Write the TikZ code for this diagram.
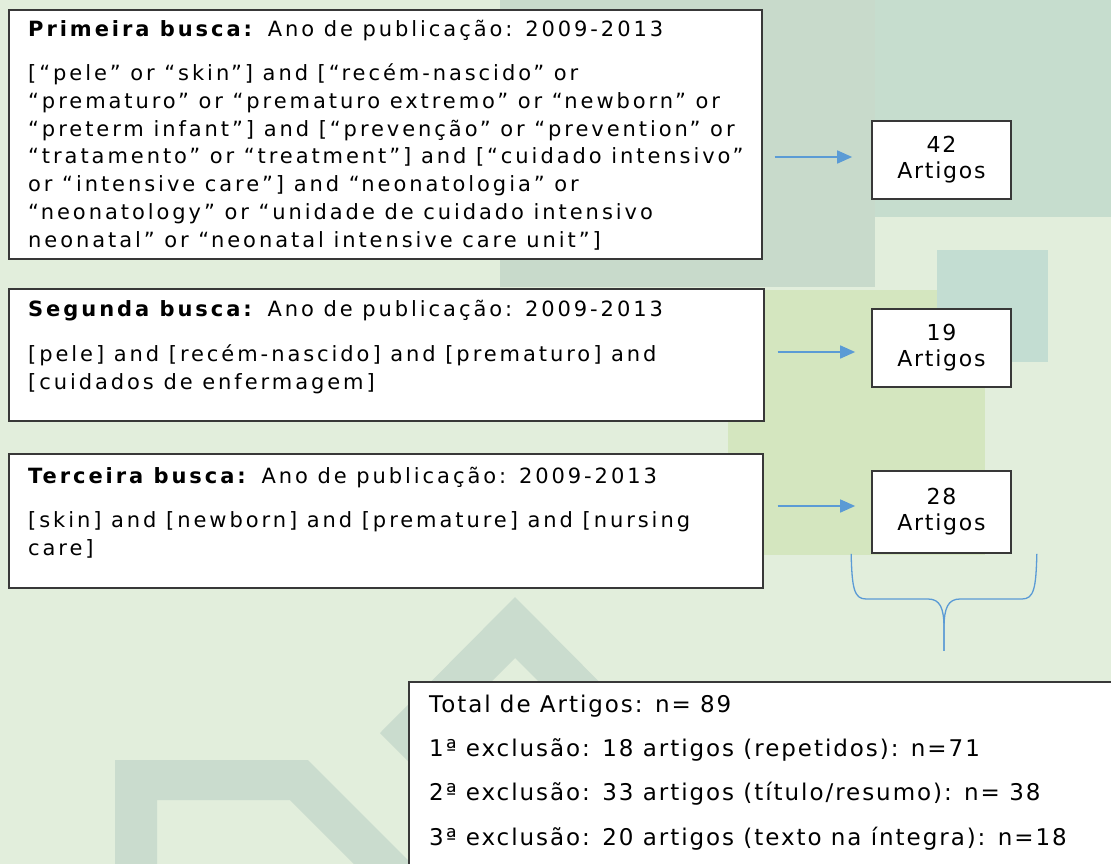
\documentclass[tikz,border=0pt]{standalone}
\usepackage{fontspec}
\setmainfont{DejaVu Sans}
\newfontfamily\boxfont{DejaVu Sans}[LetterSpace=14]
\newfontfamily\numfont{DejaVu Sans}[LetterSpace=8]
\newfontfamily\totfont{DejaVu Sans}[LetterSpace=8.5]
\usetikzlibrary{arrows.meta,calc}
\definecolor{bgc}{HTML}{E2EEDC}
\definecolor{blkA}{HTML}{C8DACB}
\definecolor{blkB}{HTML}{C6DDCE}
\definecolor{tealsq}{HTML}{C3DDD2}
\definecolor{ygreen}{HTML}{D4E6BF}
\definecolor{chev}{HTML}{CADCCE}
\definecolor{bordc}{HTML}{383838}
\definecolor{arrc}{HTML}{5B9BD5}
\begin{document}
\begin{tikzpicture}[x=1pt,y=-1pt,
  every node/.style={text=black},
  box/.style={draw=bordc, line width=1.7pt, fill=white, rectangle, inner sep=0pt, anchor=north west},
  numbox/.style={draw=bordc, line width=1.7pt, fill=white, rectangle, inner sep=0pt, align=center, minimum width=139pt, font=\numfont\fontsize{22}{26}\selectfont},
  txt/.style={anchor=base west, align=left, inner sep=0pt, font=\boxfont\fontsize{21}{27.7}\selectfont},
  tottxt/.style={anchor=base west, align=left, inner sep=0pt, font=\totfont\fontsize{23}{27.7}\selectfont},
  arr/.style={draw=arrc, line width=1.6pt, -{Triangle[length=15pt,width=13pt]}},
  brace/.style={draw=arrc, line width=1.3pt}]
\clip (0,0) rectangle (1111,864);
% background
\fill[bgc] (0,0) rectangle (1111,864);
\fill[blkA] (500,0) rectangle (875,287);
\fill[blkB] (875,0) rectangle (1111,217);
\fill[ygreen] (728,290) rectangle (985,555);
\fill[tealsq] (937,250) rectangle (1048,362);
\fill[chev] (515,597) -- (380,733) -- (410,763) -- (515,658) -- (620,763) -- (650,733) -- cycle;
\fill[chev] (115,864) -- (115,760) -- (308,760) -- (412,864) -- (354,864) -- (290,800) -- (157,800) -- (157,864) -- cycle;
% search boxes
\node[box, minimum width=753pt, minimum height=249pt] (b1) at (8,9) {};
\node[box, minimum width=755pt, minimum height=132pt] (b2) at (8,288) {};
\node[box, minimum width=754pt, minimum height=134pt] (b3) at (8,453) {};
\node[txt] (t1) at (28,247) {\textbf{Primeira busca:} Ano de publicação: 2009-2013\\[16.3pt]
[“pele” or “skin”] and [“recém-nascido” or\\
“prematuro” or “prematuro extremo” or “newborn” or\\
“preterm infant”] and [“prevenção” or “prevention” or\\
“tratamento” or “treatment”] and [“cuidado intensivo”\\
or “intensive care”] and “neonatologia” or\\
“neonatology” or “unidade de cuidado intensivo\\
neonatal” or “neonatal intensive care unit”]};
\node[txt] (t2) at (28,389) {\textbf{Segunda busca:} Ano de publicação: 2009-2013\\[17.3pt]
[pele] and [recém-nascido] and [prematuro] and\\[0pt]
[cuidados de enfermagem]};
\node[txt] (t3) at (28,555) {\textbf{Terceira busca:} Ano de publicação: 2009-2013\\[16.3pt]
[skin] and [newborn] and [premature] and [nursing\\
care]};
% count boxes
\node[numbox, minimum height=78pt] (n42) at (941.5,160) {42\\Artigos};
\node[numbox, minimum height=78pt] (n19) at (941.5,348) {19\\Artigos};
\node[numbox, minimum height=82pt] (n28) at (941.5,512) {28\\Artigos};
% arrows
\draw[arr] ($(b1.east |- n42.center)+(12,-3)$) -- ($(n42.west)+(-19,-3)$);
\draw[arr] ($(b2.east |- n19.center)+(13,4)$) -- ($(n19.west)+(-16,4)$);
\draw[arr] ($(b3.east |- n28.center)+(14,-6)$) -- ($(n28.west)+(-16,-6)$);
% brace
\coordinate (brL) at ($(n28.south west)+(-20,0)$);
\coordinate (brR) at ($(n28.south east)+(25,0)$);
\coordinate (brT) at ($(n28.south)+(2.5,97)$);
\draw[brace] (brL) .. controls (852,588) and (854,599) .. (866,599) -- (928,599) .. controls (940,599) and (944,608) .. (944,628) -- (brT);
\draw[brace] (brT) -- (944,628) .. controls (944,608) and (948,599) .. (960,599) -- (1022,599) .. controls (1034,599) and (1036,588) .. (brR);
% total box
\node[box, minimum width=760pt, minimum height=250pt] (tot) at (408,681) {};
\node[tottxt] (tt) at (429,845) {Total de Artigos: n= 89\\[16.6pt]
1ª exclusão: 18 artigos (repetidos): n=71\\[16.6pt]
2ª exclusão: 33 artigos (título/resumo): n= 38\\[16.6pt]
3ª exclusão: 20 artigos (texto na íntegra): n=18};
\end{tikzpicture}
\end{document}
